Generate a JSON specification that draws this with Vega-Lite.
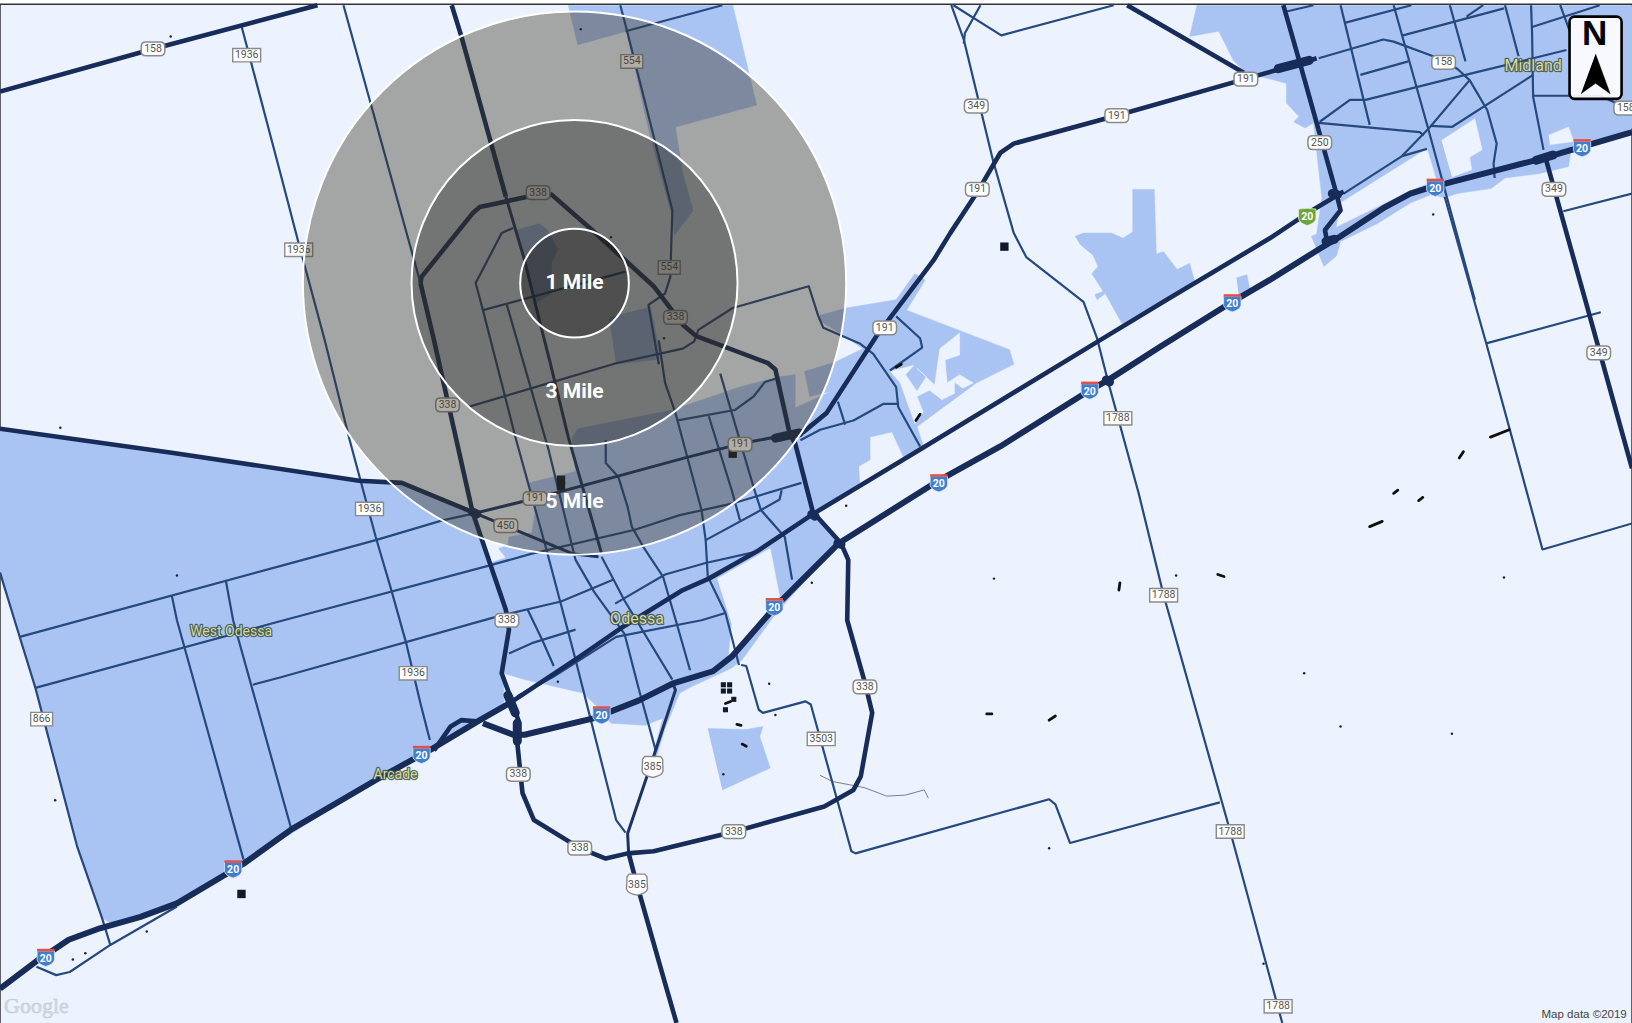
{"$schema":"https://vega.github.io/schema/vega-lite/v6.json","width":1632,"height":1023,"autosize":{"type":"none"},"padding":0,"background":"#ffffff","view":{"stroke":null},
"datasets":{
"frame":[{"r":1,"x":0,"y":4},{"r":1,"x":1568,"y":4},{"r":1,"x":1568,"y":984},{"r":1,"x":0,"y":984},{"r":1,"x":0,"y":4}],
"urban":[
{"r":1,"x":0,"y":412},{"r":1,"x":165,"y":435},{"r":1,"x":345,"y":462},{"r":1,"x":386,"y":464},{"r":1,"x":454,"y":492},{"r":1,"x":461,"y":516},{"r":1,"x":470,"y":541},{"r":1,"x":486,"y":536},{"r":1,"x":479,"y":527},{"r":1,"x":488,"y":524},{"r":1,"x":489,"y":516},{"r":1,"x":511,"y":512},{"r":1,"x":514,"y":493},{"r":1,"x":508,"y":464},{"r":1,"x":553,"y":453},{"r":1,"x":550,"y":432},{"r":1,"x":550,"y":420},{"r":1,"x":555,"y":412},{"r":1,"x":646,"y":394},{"r":1,"x":710,"y":372},{"r":1,"x":749,"y":362},{"r":1,"x":764,"y":360},{"r":1,"x":764,"y":392},{"r":1,"x":799,"y":376},{"r":1,"x":778,"y":381},{"r":1,"x":773,"y":357},{"r":1,"x":802,"y":348},{"r":1,"x":829,"y":335},{"r":1,"x":810,"y":322},{"r":1,"x":786,"y":307},{"r":1,"x":788,"y":303},{"r":1,"x":813,"y":296},{"r":1,"x":861,"y":288},{"r":1,"x":879,"y":263},{"r":1,"x":889,"y":269},{"r":1,"x":871,"y":298},{"r":1,"x":970,"y":336},{"r":1,"x":974,"y":350},{"r":1,"x":938,"y":368},{"r":1,"x":881,"y":410},{"r":1,"x":887,"y":428},{"r":1,"x":884,"y":431},{"r":1,"x":868,"y":439},{"r":1,"x":857,"y":415},{"r":1,"x":836,"y":420},{"r":1,"x":836,"y":442},{"r":1,"x":825,"y":448},{"r":1,"x":826,"y":464},{"r":1,"x":781,"y":494},{"r":1,"x":806,"y":522},{"r":1,"x":745,"y":590},{"r":1,"x":713,"y":634},{"r":1,"x":703,"y":642},{"r":1,"x":664,"y":660},{"r":1,"x":653,"y":666},{"r":1,"x":639,"y":700},{"r":1,"x":630,"y":730},{"r":1,"x":626,"y":730},{"r":1,"x":637,"y":690},{"r":1,"x":620,"y":697},{"r":1,"x":587,"y":695},{"r":1,"x":575,"y":680},{"r":1,"x":560,"y":666},{"r":1,"x":504,"y":653},{"r":1,"x":484,"y":647},{"r":1,"x":484,"y":680},{"r":1,"x":416,"y":721},{"r":1,"x":362,"y":749},{"r":1,"x":234,"y":830},{"r":1,"x":170,"y":868},{"r":1,"x":106,"y":887},{"r":1,"x":98,"y":882},{"r":1,"x":74,"y":813},{"r":1,"x":34,"y":661},{"r":1,"x":14,"y":596},{"r":1,"x":0,"y":550},
{"r":2,"x":546,"y":5},{"r":2,"x":555,"y":43},{"r":2,"x":602,"y":30},{"r":2,"x":624,"y":128},{"r":2,"x":645,"y":205},{"r":2,"x":648,"y":226},{"r":2,"x":666,"y":202},{"r":2,"x":656,"y":167},{"r":2,"x":649,"y":122},{"r":2,"x":727,"y":101},{"r":2,"x":704,"y":5},
{"r":3,"x":496,"y":221},{"r":3,"x":518,"y":215},{"r":3,"x":526,"y":221},{"r":3,"x":536,"y":239},{"r":3,"x":530,"y":253},{"r":3,"x":530,"y":282},{"r":3,"x":514,"y":292},{"r":3,"x":505,"y":256},
{"r":4,"x":585,"y":305},{"r":4,"x":625,"y":295},{"r":4,"x":635,"y":345},{"r":4,"x":592,"y":350},
{"r":5,"x":1150,"y":5},{"r":5,"x":1143,"y":35},{"r":5,"x":1171,"y":30},{"r":5,"x":1185,"y":58},{"r":5,"x":1197,"y":70},{"r":5,"x":1236,"y":80},{"r":5,"x":1236,"y":99},{"r":5,"x":1248,"y":112},{"r":5,"x":1243,"y":117},{"r":5,"x":1254,"y":123},{"r":5,"x":1262,"y":118},{"r":5,"x":1270,"y":190},{"r":5,"x":1265,"y":225},{"r":5,"x":1260,"y":227},{"r":5,"x":1272,"y":256},{"r":5,"x":1284,"y":246},{"r":5,"x":1288,"y":232},{"r":5,"x":1323,"y":215},{"r":5,"x":1355,"y":195},{"r":5,"x":1375,"y":187},{"r":5,"x":1388,"y":190},{"r":5,"x":1400,"y":186},{"r":5,"x":1433,"y":181},{"r":5,"x":1446,"y":171},{"r":5,"x":1478,"y":167},{"r":5,"x":1507,"y":160},{"r":5,"x":1509,"y":147},{"r":5,"x":1568,"y":123},{"r":5,"x":1568,"y":5},
{"r":6,"x":1188,"y":267},{"r":6,"x":1198,"y":264},{"r":6,"x":1201,"y":279},{"r":6,"x":1190,"y":283},
{"r":7,"x":1088,"y":182},{"r":7,"x":1109,"y":182},{"r":7,"x":1111,"y":244},{"r":7,"x":1118,"y":242},{"r":7,"x":1131,"y":259},{"r":7,"x":1143,"y":253},{"r":7,"x":1148,"y":271},{"r":7,"x":1078,"y":311},{"r":7,"x":1062,"y":282},{"r":7,"x":1054,"y":288},{"r":7,"x":1052,"y":283},{"r":7,"x":1060,"y":280},{"r":7,"x":1049,"y":263},{"r":7,"x":1055,"y":256},{"r":7,"x":1050,"y":245},{"r":7,"x":1038,"y":235},{"r":7,"x":1033,"y":227},{"r":7,"x":1041,"y":224},{"r":7,"x":1068,"y":224},{"r":7,"x":1079,"y":229},{"r":7,"x":1088,"y":223},
{"r":8,"x":680,"y":700},{"r":8,"x":717,"y":701},{"r":8,"x":733,"y":698},{"r":8,"x":730,"y":708},{"r":8,"x":740,"y":738},{"r":8,"x":694,"y":759}],
"holes":[
{"r":1,"x":1288,"y":195},{"r":1,"x":1371,"y":143},{"r":1,"x":1380,"y":173},{"r":1,"x":1355,"y":183},{"r":1,"x":1284,"y":218},
{"r":2,"x":1385,"y":135},{"r":2,"x":1417,"y":114},{"r":2,"x":1424,"y":144},{"r":2,"x":1412,"y":151},{"r":2,"x":1414,"y":163},{"r":2,"x":1395,"y":170},
{"r":3,"x":1488,"y":130},{"r":3,"x":1507,"y":122},{"r":3,"x":1512,"y":136},{"r":3,"x":1489,"y":139},
{"r":4,"x":855,"y":357},{"r":4,"x":878,"y":351},{"r":4,"x":870,"y":360},{"r":4,"x":881,"y":376},{"r":4,"x":890,"y":362},{"r":4,"x":881,"y":354},{"r":4,"x":898,"y":370},{"r":4,"x":903,"y":335},{"r":4,"x":922,"y":320},{"r":4,"x":922,"y":341},{"r":4,"x":908,"y":346},{"r":4,"x":910,"y":368},{"r":4,"x":922,"y":360},{"r":4,"x":935,"y":368},{"r":4,"x":925,"y":373},{"r":4,"x":917,"y":367},{"r":4,"x":917,"y":378},{"r":4,"x":905,"y":384},{"r":4,"x":893,"y":375},{"r":4,"x":881,"y":381},{"r":4,"x":887,"y":396},{"r":4,"x":879,"y":407},{"r":4,"x":865,"y":368},
{"r":5,"x":689,"y":556},{"r":5,"x":740,"y":527},{"r":5,"x":749,"y":573},{"r":5,"x":700,"y":632},{"r":5,"x":703,"y":600}],
"hw":[
{"r":1,"x":0,"y":950},{"r":1,"x":37,"y":922},{"r":1,"x":51,"y":913},{"r":1,"x":66,"y":903},{"r":1,"x":96,"y":892},{"r":1,"x":135,"y":881},{"r":1,"x":170,"y":868},{"r":1,"x":234,"y":830},{"r":1,"x":280,"y":797},{"r":1,"x":362,"y":749},{"r":1,"x":416,"y":719},{"r":1,"x":461,"y":692},{"r":1,"x":489,"y":676},
{"r":2,"x":464,"y":695},{"r":2,"x":493,"y":706},{"r":2,"x":504,"y":706},{"r":2,"x":571,"y":690},{"r":2,"x":614,"y":673},{"r":2,"x":646,"y":657},{"r":2,"x":685,"y":645},{"r":2,"x":703,"y":631},{"r":2,"x":745,"y":583},{"r":2,"x":806,"y":522},{"r":2,"x":903,"y":461},{"r":2,"x":961,"y":429},{"r":2,"x":1047,"y":375},{"r":2,"x":1065,"y":365},{"r":2,"x":1115,"y":333},{"r":2,"x":1179,"y":293},{"r":2,"x":1220,"y":269},{"r":2,"x":1268,"y":239},{"r":2,"x":1288,"y":227},{"r":2,"x":1329,"y":200},{"r":2,"x":1355,"y":186},{"r":2,"x":1371,"y":181},{"r":2,"x":1483,"y":152},{"r":2,"x":1568,"y":127}],
"maj":[
{"r":1,"x":489,"y":676},{"r":1,"x":557,"y":631},{"r":1,"x":596,"y":604},{"r":1,"x":656,"y":567},{"r":1,"x":681,"y":556},{"r":1,"x":727,"y":530},{"r":1,"x":781,"y":494},{"r":1,"x":884,"y":432},{"r":1,"x":1055,"y":328},{"r":1,"x":1121,"y":288},{"r":1,"x":1220,"y":229},{"r":1,"x":1256,"y":205},{"r":1,"x":1291,"y":184},
{"r":2,"x":745,"y":420},{"r":2,"x":772,"y":415},{"r":2,"x":794,"y":397},{"r":2,"x":842,"y":323},{"r":2,"x":897,"y":250},{"r":2,"x":913,"y":224},{"r":2,"x":940,"y":183},{"r":2,"x":961,"y":147},{"r":2,"x":974,"y":138},{"r":2,"x":1073,"y":111},{"r":2,"x":1196,"y":76},{"r":2,"x":1249,"y":61},{"r":2,"x":1265,"y":56},
{"r":4,"x":404,"y":272},{"r":4,"x":405,"y":266},{"r":4,"x":454,"y":205},{"r":4,"x":461,"y":199},{"r":4,"x":507,"y":189},{"r":4,"x":530,"y":187},{"r":4,"x":571,"y":223},{"r":4,"x":628,"y":275},{"r":4,"x":656,"y":312},{"r":4,"x":669,"y":323},{"r":4,"x":738,"y":349},{"r":4,"x":745,"y":355},{"r":4,"x":759,"y":418},{"r":4,"x":764,"y":426},{"r":4,"x":781,"y":492},{"r":4,"x":808,"y":522},{"r":4,"x":815,"y":538},{"r":4,"x":814,"y":596},{"r":4,"x":831,"y":656},{"r":4,"x":838,"y":685},{"r":4,"x":827,"y":746},{"r":4,"x":820,"y":759},{"r":4,"x":792,"y":775},{"r":4,"x":706,"y":799},{"r":4,"x":628,"y":818},{"r":4,"x":603,"y":820},{"r":4,"x":582,"y":825},{"r":4,"x":557,"y":815},{"r":4,"x":513,"y":788},{"r":4,"x":502,"y":762},{"r":4,"x":497,"y":714},{"r":4,"x":498,"y":692},{"r":4,"x":489,"y":666},{"r":4,"x":482,"y":647},{"r":4,"x":489,"y":605},{"r":4,"x":486,"y":586},{"r":4,"x":472,"y":545},{"r":4,"x":454,"y":492},{"r":4,"x":417,"y":327},{"r":4,"x":404,"y":272},
{"r":5,"x":434,"y":5},{"r":5,"x":443,"y":34},{"r":5,"x":486,"y":189},
{"r":6,"x":604,"y":820},{"r":6,"x":612,"y":850},{"r":6,"x":639,"y":945},{"r":6,"x":650,"y":983},
{"r":7,"x":1485,"y":152},{"r":7,"x":1523,"y":288},{"r":7,"x":1568,"y":450},
{"r":8,"x":1233,"y":5},{"r":8,"x":1249,"y":61},{"r":8,"x":1284,"y":186},{"r":8,"x":1288,"y":202},{"r":8,"x":1273,"y":221},{"r":8,"x":1275,"y":232},
{"r":9,"x":0,"y":88},{"r":9,"x":147,"y":47},{"r":9,"x":305,"y":5},
{"r":10,"x":1083,"y":5},{"r":10,"x":1195,"y":70},
{"r":11,"x":0,"y":412},{"r":11,"x":165,"y":435},{"r":11,"x":345,"y":462},{"r":11,"x":386,"y":464},{"r":11,"x":454,"y":492},
{"r":12,"x":417,"y":721},{"r":12,"x":433,"y":698},{"r":12,"x":443,"y":692},{"r":12,"x":458,"y":693}],
"med":[
{"r":1,"x":454,"y":492},{"r":1,"x":550,"y":532},{"r":1,"x":575,"y":535},
{"r":2,"x":486,"y":189},{"r":2,"x":504,"y":250},{"r":2,"x":518,"y":307},{"r":2,"x":528,"y":346},{"r":2,"x":546,"y":420},{"r":2,"x":578,"y":532},
{"r":3,"x":604,"y":820},{"r":3,"x":603,"y":801},{"r":3,"x":626,"y":733},{"r":3,"x":649,"y":663},{"r":3,"x":646,"y":656},
{"r":4,"x":745,"y":420},{"r":4,"x":713,"y":426},{"r":4,"x":658,"y":440},{"r":4,"x":592,"y":458},{"r":4,"x":514,"y":479},{"r":4,"x":457,"y":493}],
"thin":[
{"r":1,"x":457,"y":493},{"r":1,"x":425,"y":500},{"r":1,"x":361,"y":519},{"r":1,"x":269,"y":544},{"r":1,"x":19,"y":612},
{"r":2,"x":34,"y":661},{"r":2,"x":269,"y":597},{"r":2,"x":468,"y":544},{"r":2,"x":511,"y":532},{"r":2,"x":610,"y":509},{"r":2,"x":653,"y":495},{"r":2,"x":703,"y":484},{"r":2,"x":770,"y":464},
{"r":3,"x":243,"y":658},{"r":3,"x":269,"y":651},{"r":3,"x":479,"y":592},{"r":3,"x":539,"y":578},{"r":3,"x":589,"y":557},
{"r":4,"x":330,"y":5},{"r":4,"x":356,"y":99},{"r":4,"x":404,"y":272},
{"r":5,"x":232,"y":25},{"r":5,"x":269,"y":165},{"r":5,"x":287,"y":234},{"r":5,"x":312,"y":327},{"r":5,"x":336,"y":423},{"r":5,"x":361,"y":516},{"r":5,"x":376,"y":567},{"r":5,"x":390,"y":617},{"r":5,"x":404,"y":676},{"r":5,"x":413,"y":711},
{"r":6,"x":464,"y":298},{"r":6,"x":496,"y":423},{"r":6,"x":525,"y":528},{"r":6,"x":553,"y":634},{"r":6,"x":592,"y":788},{"r":6,"x":601,"y":800},
{"r":7,"x":487,"y":293},{"r":7,"x":527,"y":432},{"r":7,"x":553,"y":538},{"r":7,"x":571,"y":569},{"r":7,"x":600,"y":609},{"r":7,"x":614,"y":663},
{"r":8,"x":578,"y":535},{"r":8,"x":600,"y":577},{"r":8,"x":646,"y":653},
{"r":9,"x":582,"y":423},{"r":9,"x":582,"y":445},{"r":9,"x":594,"y":458},{"r":9,"x":603,"y":487},{"r":9,"x":607,"y":506},{"r":9,"x":619,"y":527},{"r":9,"x":637,"y":554},{"r":9,"x":651,"y":602},{"r":9,"x":663,"y":644},
{"r":10,"x":633,"y":327},{"r":10,"x":639,"y":368},{"r":10,"x":649,"y":397},{"r":10,"x":674,"y":490},{"r":10,"x":678,"y":519},{"r":10,"x":680,"y":554},{"r":10,"x":697,"y":589},{"r":10,"x":710,"y":639},
{"r":11,"x":692,"y":359},{"r":11,"x":724,"y":468},{"r":11,"x":731,"y":490},{"r":11,"x":754,"y":516},{"r":11,"x":761,"y":557},
{"r":12,"x":681,"y":400},{"r":12,"x":703,"y":471},{"r":12,"x":711,"y":500},
{"r":13,"x":678,"y":519},{"r":13,"x":726,"y":493},{"r":13,"x":749,"y":480},{"r":13,"x":751,"y":471},
{"r":14,"x":596,"y":5},{"r":14,"x":603,"y":32},{"r":14,"x":646,"y":202},{"r":14,"x":644,"y":266},{"r":14,"x":639,"y":282},{"r":14,"x":623,"y":293},{"r":14,"x":633,"y":350},
{"r":15,"x":601,"y":30},{"r":15,"x":694,"y":5},
{"r":16,"x":464,"y":298},{"r":16,"x":601,"y":261},
{"r":17,"x":464,"y":298},{"r":17,"x":457,"y":272},{"r":17,"x":482,"y":224},{"r":17,"x":493,"y":219},
{"r":18,"x":450,"y":391},{"r":18,"x":511,"y":373},{"r":18,"x":592,"y":349},{"r":18,"x":656,"y":335},{"r":18,"x":667,"y":328},{"r":18,"x":671,"y":317},{"r":18,"x":704,"y":296},{"r":18,"x":777,"y":275},{"r":18,"x":786,"y":303},{"r":18,"x":791,"y":315},{"r":18,"x":826,"y":330},{"r":18,"x":839,"y":340},{"r":18,"x":861,"y":372},{"r":18,"x":863,"y":391},{"r":18,"x":884,"y":429},
{"r":19,"x":769,"y":423},{"r":19,"x":788,"y":413},{"r":19,"x":820,"y":404},{"r":19,"x":849,"y":388},{"r":19,"x":863,"y":388},
{"r":20,"x":805,"y":386},{"r":20,"x":812,"y":408},
{"r":21,"x":861,"y":304},{"r":21,"x":884,"y":325},{"r":21,"x":886,"y":334},{"r":21,"x":855,"y":356},
{"r":22,"x":651,"y":404},{"r":22,"x":706,"y":394},{"r":22,"x":724,"y":381},{"r":22,"x":735,"y":367},{"r":22,"x":745,"y":364},
{"r":23,"x":497,"y":669},{"r":23,"x":532,"y":650},{"r":23,"x":592,"y":612},{"r":23,"x":674,"y":596},{"r":23,"x":697,"y":589},
{"r":24,"x":591,"y":580},{"r":24,"x":639,"y":552},{"r":24,"x":678,"y":541},{"r":24,"x":727,"y":530},
{"r":25,"x":489,"y":628},{"r":25,"x":511,"y":618},{"r":25,"x":553,"y":605},
{"r":26,"x":507,"y":586},{"r":26,"x":521,"y":615},{"r":26,"x":532,"y":640},
{"r":27,"x":614,"y":663},{"r":27,"x":630,"y":721},
{"r":28,"x":165,"y":572},{"r":28,"x":170,"y":596},{"r":28,"x":234,"y":826},
{"r":29,"x":217,"y":558},{"r":29,"x":224,"y":596},{"r":29,"x":280,"y":797},
{"r":30,"x":0,"y":550},{"r":30,"x":14,"y":596},{"r":30,"x":34,"y":661},{"r":30,"x":74,"y":813},{"r":30,"x":98,"y":882},{"r":30,"x":106,"y":908},
{"r":31,"x":170,"y":871},{"r":31,"x":106,"y":908},{"r":31,"x":67,"y":934},{"r":31,"x":54,"y":937},{"r":31,"x":35,"y":929},
{"r":32,"x":914,"y":5},{"r":32,"x":926,"y":38},{"r":32,"x":954,"y":154},{"r":32,"x":974,"y":224},{"r":32,"x":986,"y":247},{"r":32,"x":1041,"y":290},{"r":32,"x":1054,"y":325},{"r":32,"x":1065,"y":368},{"r":32,"x":1094,"y":474},{"r":32,"x":1118,"y":572},{"r":32,"x":1182,"y":799},{"r":32,"x":1232,"y":983},
{"r":33,"x":942,"y":5},{"r":33,"x":927,"y":32},{"r":33,"x":926,"y":42},
{"r":34,"x":916,"y":5},{"r":34,"x":962,"y":34},{"r":34,"x":1070,"y":5},
{"r":35,"x":1388,"y":189},{"r":35,"x":1428,"y":330},{"r":35,"x":1482,"y":528},{"r":35,"x":1568,"y":503},
{"r":36,"x":1428,"y":330},{"r":36,"x":1538,"y":300},
{"r":37,"x":1502,"y":203},{"r":37,"x":1568,"y":186},
{"r":38,"x":712,"y":639},{"r":38,"x":717,"y":640},{"r":38,"x":729,"y":682},{"r":38,"x":733,"y":685},{"r":38,"x":774,"y":674},{"r":38,"x":779,"y":677},{"r":38,"x":818,"y":818},{"r":38,"x":822,"y":820},{"r":38,"x":1008,"y":768},{"r":38,"x":1014,"y":773},{"r":38,"x":1028,"y":810},{"r":38,"x":1172,"y":771},
{"r":39,"x":1236,"y":11},{"r":39,"x":1262,"y":5},
{"r":40,"x":1288,"y":5},{"r":40,"x":1316,"y":120},
{"r":41,"x":1292,"y":22},{"r":41,"x":1356,"y":5},
{"r":42,"x":1267,"y":56},{"r":42,"x":1329,"y":38},{"r":42,"x":1339,"y":40},{"r":42,"x":1377,"y":54},{"r":42,"x":1388,"y":59},{"r":42,"x":1400,"y":66},{"r":42,"x":1412,"y":77},{"r":42,"x":1429,"y":106},{"r":42,"x":1438,"y":138},{"r":42,"x":1435,"y":157},{"r":42,"x":1436,"y":171},
{"r":43,"x":1339,"y":5},{"r":43,"x":1372,"y":123},{"r":43,"x":1417,"y":288},
{"r":44,"x":1307,"y":72},{"r":44,"x":1353,"y":59},
{"r":45,"x":1348,"y":34},{"r":45,"x":1445,"y":8},
{"r":46,"x":1393,"y":5},{"r":46,"x":1408,"y":59},
{"r":47,"x":1409,"y":16},{"r":47,"x":1425,"y":5},
{"r":48,"x":1268,"y":117},{"r":48,"x":1297,"y":96},{"r":48,"x":1312,"y":96},{"r":48,"x":1408,"y":72},{"r":48,"x":1473,"y":56},{"r":48,"x":1505,"y":48},
{"r":49,"x":1267,"y":118},{"r":49,"x":1364,"y":127},{"r":49,"x":1368,"y":130},
{"r":50,"x":1291,"y":186},{"r":50,"x":1347,"y":150},{"r":50,"x":1374,"y":122},{"r":50,"x":1412,"y":77},
{"r":51,"x":1374,"y":121},{"r":51,"x":1395,"y":122},{"r":51,"x":1473,"y":72},
{"r":52,"x":1446,"y":5},{"r":52,"x":1459,"y":54},
{"r":53,"x":1472,"y":26},{"r":53,"x":1537,"y":5},
{"r":54,"x":1499,"y":5},{"r":54,"x":1509,"y":32},
{"r":55,"x":1473,"y":92},{"r":55,"x":1537,"y":92},{"r":55,"x":1568,"y":106},
{"r":56,"x":1471,"y":5},{"r":56,"x":1472,"y":32},{"r":56,"x":1473,"y":93},{"r":56,"x":1483,"y":144},
{"r":57,"x":1347,"y":150},{"r":57,"x":1371,"y":143}],
"thick":[
{"r":1,"x":488,"y":668},{"r":1,"x":495,"y":685},
{"r":2,"x":497,"y":695},{"r":2,"x":497,"y":712},
{"r":3,"x":1228,"y":66},{"r":3,"x":1258,"y":58},
{"r":4,"x":745,"y":421},{"r":4,"x":768,"y":416},
{"r":5,"x":1063,"y":365},{"r":5,"x":1066,"y":367},
{"r":6,"x":780,"y":494},{"r":6,"x":783,"y":496},
{"r":7,"x":805,"y":522},{"r":7,"x":808,"y":523},
{"r":8,"x":1280,"y":186},{"r":8,"x":1285,"y":187},
{"r":9,"x":1274,"y":232},{"r":9,"x":1282,"y":230},
{"r":10,"x":1476,"y":154},{"r":10,"x":1492,"y":149},
{"r":11,"x":454,"y":492},{"r":11,"x":458,"y":494}],
"frag":[
{"r":1,"x":1432,"y":420},{"r":1,"x":1450,"y":413},
{"r":2,"x":1402,"y":440},{"r":2,"x":1406,"y":434},
{"r":3,"x":1316,"y":506},{"r":3,"x":1328,"y":501},
{"r":4,"x":1363,"y":481},{"r":4,"x":1367,"y":478},
{"r":5,"x":1339,"y":474},{"r":5,"x":1343,"y":471},
{"r":6,"x":1076,"y":560},{"r":6,"x":1075,"y":567},
{"r":7,"x":1170,"y":552},{"r":7,"x":1176,"y":554},
{"r":8,"x":1008,"y":692},{"r":8,"x":1014,"y":688},
{"r":9,"x":948,"y":686},{"r":9,"x":953,"y":686},
{"r":10,"x":708,"y":696},{"r":10,"x":712,"y":697},
{"r":11,"x":697,"y":676},{"r":11,"x":702,"y":674},
{"r":12,"x":713,"y":715},{"r":12,"x":717,"y":717},
{"r":13,"x":861,"y":353},{"r":13,"x":866,"y":350},
{"r":14,"x":880,"y":404},{"r":14,"x":884,"y":398}],
"river":[{"r":1,"x":788,"y":745},{"r":1,"x":800,"y":751},{"r":1,"x":816,"y":754},{"r":1,"x":831,"y":757},{"r":1,"x":852,"y":765},{"r":1,"x":870,"y":764},{"r":1,"x":888,"y":759},{"r":1,"x":892,"y":767}],
"bigblobs":[{"x":965,"y":237},{"x":232,"y":859},{"x":704,"y":436},{"x":539,"y":461},{"x":539,"y":467}],
"midblobs":[{"x":695,"y":658},{"x":701,"y":658},{"x":695,"y":664},{"x":701,"y":664},{"x":697,"y":682},{"x":705,"y":672}],
"dots":[{"x":164,"y":35},{"x":58,"y":411},{"x":53,"y":769},{"x":70,"y":922},{"x":82,"y":916},{"x":813,"y":486},{"x":955,"y":556},{"x":1130,"y":553},{"x":1253,"y":647},{"x":1288,"y":698},{"x":1008,"y":815},{"x":1214,"y":926},{"x":1395,"y":705},{"x":1445,"y":555},{"x":1377,"y":206},{"x":558,"y":28},{"x":536,"y":655},{"x":739,"y":657},{"x":745,"y":687},{"x":170,"y":553},{"x":141,"y":895},{"x":587,"y":228},{"x":640,"y":310},{"x":638,"y":325},{"x":695,"y":744},{"x":780,"y":560}],
"oval":[{"x":517,"y":185,"t":"338"},{"x":649,"y":305,"t":"338"},{"x":430,"y":389,"t":"338"},{"x":487,"y":596,"t":"338"},{"x":498,"y":744,"t":"338"},{"x":557,"y":815,"t":"338"},{"x":705,"y":799,"t":"338"},{"x":831,"y":660,"t":"338"},{"x":1197,"y":76,"t":"191"},{"x":1073,"y":111,"t":"191"},{"x":939,"y":182,"t":"191"},{"x":850,"y":315,"t":"191"},{"x":711,"y":427,"t":"191"},{"x":514,"y":479,"t":"191"},{"x":938,"y":102,"t":"349"},{"x":1493,"y":182,"t":"349"},{"x":1536,"y":339,"t":"349"},{"x":147,"y":47,"t":"158"},{"x":1387,"y":60,"t":"158"},{"x":1562,"y":104,"t":"158"},{"x":1268,"y":137,"t":"250"},{"x":486,"y":505,"t":"450"}],
"rect4":[{"x":237,"y":53,"t":"1936"},{"x":287,"y":240,"t":"1936"},{"x":355,"y":489,"t":"1936"},{"x":397,"y":647,"t":"1936"},{"x":1074,"y":402,"t":"1788"},{"x":1118,"y":572,"t":"1788"},{"x":1182,"y":799,"t":"1788"},{"x":1228,"y":967,"t":"1788"},{"x":789,"y":710,"t":"3503"}],
"rect3":[{"x":607,"y":59,"t":"554"},{"x":643,"y":257,"t":"554"},{"x":40,"y":691,"t":"866"}],
"us":[{"x":627,"y":737,"t":"385"},{"x":612,"y":850,"t":"385"}],
"interstate":[{"x":44,"y":920,"t":"20"},{"x":224,"y":835,"t":"20"},{"x":405,"y":725,"t":"20"},{"x":578,"y":687,"t":"20"},{"x":744,"y":583,"t":"20"},{"x":902,"y":464,"t":"20"},{"x":1047,"y":375,"t":"20"},{"x":1184,"y":291,"t":"20"},{"x":1379,"y":180,"t":"20"},{"x":1520,"y":142,"t":"20"}],
"green":[{"x":1256,"y":208,"t":"20"}],
"cities":[{"x":222,"y":607,"t":"West Odessa"},{"x":380,"y":745,"t":"Arcade"}],
"bigcities":[{"x":612,"y":595,"t":"Odessa"},{"x":1473,"y":63,"t":"Midland"}],
"rings":[{"x":552,"y":272,"miles":5},{"x":552,"y":272,"miles":3},{"x":552,"y":272,"miles":1}],
"ringLabels":[{"x":552,"y":272,"t":"1 Mile"},{"x":552,"y":377,"t":"3 Mile"},{"x":552,"y":482,"t":"5 Mile"}],
"box":[{"x":1508,"x2":1558,"y":16,"y2":95}],
"arrow":[{"r":1,"x":1533,"y":52},{"r":1,"x":1547,"y":90},{"r":1,"x":1533,"y":80},{"r":1,"x":1519,"y":90}],
"north":[{"x":1532,"y":33,"t":"N"}],
"mapdata":[{"x":1522,"y":975,"t":"Map data ©2019"}],
"google":[{"x":35,"y":967,"t":"Google"}]
},
"encoding":{"x":{"field":"x","type":"quantitative","axis":null,"scale":{"domain":[0,1568]}},"y":{"field":"y","type":"quantitative","axis":null,"scale":{"domain":[983,0]}}},
"layer":[
{"data":{"name":"frame"},"mark":{"type":"line","fill":"#ecf2fe","stroke":"#333333","strokeWidth":1.5},"encoding":{"detail":{"field":"r"},"order":{"value":null}}},
{"data":{"name":"urban"},"mark":{"type":"line","fill":"#a9c4f3","stroke":"#a9c4f3","strokeWidth":0.5},"encoding":{"detail":{"field":"r"},"order":{"value":null}}},
{"data":{"name":"holes"},"mark":{"type":"line","fill":"#ecf2fe","stroke":"#ecf2fe","strokeWidth":0.5},"encoding":{"detail":{"field":"r"},"order":{"value":null}}},
{"data":{"name":"river"},"mark":{"type":"line","stroke":"#77808f","strokeWidth":1},"encoding":{"detail":{"field":"r"},"order":{"value":null}}},
{"data":{"name":"thin"},"mark":{"type":"line","stroke":"#25497f","strokeWidth":2.2,"strokeJoin":"round"},"encoding":{"detail":{"field":"r"},"order":{"value":null}}},
{"data":{"name":"med"},"mark":{"type":"line","stroke":"#1b3463","strokeWidth":3,"strokeJoin":"round"},"encoding":{"detail":{"field":"r"},"order":{"value":null}}},
{"data":{"name":"maj"},"mark":{"type":"line","stroke":"#172c58","strokeWidth":4.6,"strokeJoin":"round"},"encoding":{"detail":{"field":"r"},"order":{"value":null}}},
{"data":{"name":"hw"},"mark":{"type":"line","stroke":"#172c58","strokeWidth":6,"strokeJoin":"round"},"encoding":{"detail":{"field":"r"},"order":{"value":null}}},
{"data":{"name":"thick"},"mark":{"type":"line","stroke":"#172c58","strokeWidth":9,"strokeCap":"round"},"encoding":{"detail":{"field":"r"},"order":{"value":null}}},
{"data":{"name":"frag"},"mark":{"type":"line","stroke":"#101010","strokeWidth":2.8,"strokeCap":"round"},"encoding":{"detail":{"field":"r"},"order":{"value":null}}},
{"data":{"name":"bigblobs"},"mark":{"type":"point","shape":"square","filled":true,"fill":"#111a2c","size":70,"opacity":1}},
{"data":{"name":"midblobs"},"mark":{"type":"point","shape":"square","filled":true,"fill":"#111a2c","size":26,"opacity":1}},
{"data":{"name":"dots"},"mark":{"type":"point","shape":"circle","filled":true,"fill":"#222222","size":6,"opacity":1}},
{"data":{"name":"oval"},"mark":{"type":"point","shape":"M-0.6,-0.58 L0.6,-0.58 Q1,-0.58 1,-0.18 L1,0.18 Q1,0.58 0.6,0.58 L-0.6,0.58 Q-1,0.58 -1,0.18 L-1,-0.18 Q-1,-0.58 -0.6,-0.58 Z","filled":true,"fill":"#ffffff","stroke":"#8a8a8a","strokeWidth":1.5,"size":560,"opacity":1}},
{"data":{"name":"rect3"},"mark":{"type":"point","shape":"M-1,-0.62 L1,-0.62 L1,0.62 L-1,0.62 Z","filled":true,"fill":"#ffffff","stroke":"#8a8a8a","strokeWidth":1.4,"size":480,"opacity":1}},
{"data":{"name":"rect4"},"mark":{"type":"point","shape":"M-1,-0.48 L1,-0.48 L1,0.48 L-1,0.48 Z","filled":true,"fill":"#ffffff","stroke":"#8a8a8a","strokeWidth":1.4,"size":780,"opacity":1}},
{"data":{"name":"us"},"mark":{"type":"point","shape":"M-0.75,-1 L0.75,-1 L0.95,-0.75 L1,0.4 Q0.9,0.85 0,1 Q-0.9,0.85 -1,0.4 L-0.95,-0.75 Z","filled":true,"fill":"#ffffff","stroke":"#8a8a8a","strokeWidth":1.4,"size":440,"opacity":1}},
{"data":{"name":"interstate"},"mark":{"type":"point","shape":"M-1,-0.75 L1,-0.75 L1,0.3 Q0.85,0.8 0,1.05 Q-0.85,0.8 -1,0.3 Z","filled":true,"fill":"#3f7fd0","stroke":"#dfe8f6","strokeWidth":0.8,"size":300,"opacity":1}},
{"data":{"name":"interstate"},"mark":{"type":"point","shape":"M-1,-1 L1,-1 L1,-0.7 L-1,-0.7 Z","filled":true,"fill":"#e0504a","size":300,"opacity":1}},
{"data":{"name":"green"},"mark":{"type":"point","shape":"M-1,-0.85 Q0,-1.05 1,-0.85 L1,0.3 Q0.85,0.8 0,1.05 Q-0.85,0.8 -1,0.3 Z","filled":true,"fill":"#6ea43c","stroke":"#e6f0d8","strokeWidth":0.8,"size":300,"opacity":1}},
{"data":{"name":"oval"},"mark":{"type":"text","font":"Roboto","fontSize":10.5,"fill":"#555555"},"encoding":{"text":{"field":"t"}}},
{"data":{"name":"rect3"},"mark":{"type":"text","font":"Roboto","fontSize":10.5,"fill":"#555555"},"encoding":{"text":{"field":"t"}}},
{"data":{"name":"rect4"},"mark":{"type":"text","font":"Roboto","fontSize":10.5,"fill":"#555555"},"encoding":{"text":{"field":"t"}}},
{"data":{"name":"us"},"mark":{"type":"text","font":"Roboto","fontSize":10.5,"fill":"#555555"},"encoding":{"text":{"field":"t"}}},
{"data":{"name":"interstate"},"mark":{"type":"text","font":"Roboto","fontSize":10.5,"fontWeight":"bold","fill":"#ffffff","dy":1.5},"encoding":{"text":{"field":"t"}}},
{"data":{"name":"green"},"mark":{"type":"text","font":"Roboto","fontSize":10.5,"fontWeight":"bold","fill":"#ffffff","dy":1},"encoding":{"text":{"field":"t"}}},
{"data":{"name":"cities"},"mark":{"type":"text","font":"Roboto","fontSize":14,"stroke":"#3f5243","strokeWidth":2.4,"strokeOpacity":0.85,"strokeJoin":"round"},"encoding":{"text":{"field":"t"}}},
{"data":{"name":"cities"},"mark":{"type":"text","font":"Roboto","fontSize":14,"fill":"#d5d9a6"},"encoding":{"text":{"field":"t"}}},
{"data":{"name":"bigcities"},"mark":{"type":"text","font":"Roboto","fontSize":16,"stroke":"#3f5243","strokeWidth":2.4,"strokeOpacity":0.85,"strokeJoin":"round"},"encoding":{"text":{"field":"t"}}},
{"data":{"name":"bigcities"},"mark":{"type":"text","font":"Roboto","fontSize":16,"fill":"#d5d9a6"},"encoding":{"text":{"field":"t"}}},
{"data":{"name":"rings"},"mark":{"type":"point","shape":"circle","filled":true,"fillOpacity":0.4,"stroke":"#ffffff","strokeWidth":2,"strokeOpacity":1,"opacity":1},"encoding":{"size":{"field":"miles","type":"quantitative","legend":null,"scale":{"type":"pow","exponent":2,"domain":[0,5],"range":[0,295200]}},"fill":{"field":"miles","type":"ordinal","legend":null,"scale":{"domain":[1,3,5],"range":["#191919","#2a2a2a","#3a3220"]}},"order":{"field":"miles","sort":"descending"}}},
{"data":{"name":"ringLabels"},"mark":{"type":"text","font":"Roboto","fontSize":21,"fontWeight":"bold","fill":"#ffffff"},"encoding":{"text":{"field":"t"}}},
{"data":{"name":"box"},"mark":{"type":"rect","fill":"#ffffff","fillOpacity":0.9,"stroke":"#000000","strokeWidth":2.6,"cornerRadius":5},"encoding":{"x2":{"field":"x2"},"y2":{"field":"y2"}}},
{"data":{"name":"arrow"},"mark":{"type":"line","fill":"#000000","stroke":"#000000","strokeWidth":0.5},"encoding":{"detail":{"field":"r"},"order":{"value":null}}},
{"data":{"name":"north"},"mark":{"type":"text","font":"Liberation Sans","fontSize":35,"fontWeight":"bold","fill":"#000000"},"encoding":{"text":{"field":"t"}}},
{"data":{"name":"mapdata"},"mark":{"type":"text","font":"Liberation Sans","fontSize":11.5,"fill":"#444444"},"encoding":{"text":{"field":"t"}}},
{"data":{"name":"google"},"mark":{"type":"text","font":"Liberation Serif","fontSize":22,"fill":"#d3d8e2","stroke":"#c4c9d3","strokeWidth":0.5},"encoding":{"text":{"field":"t"}}}
]}
